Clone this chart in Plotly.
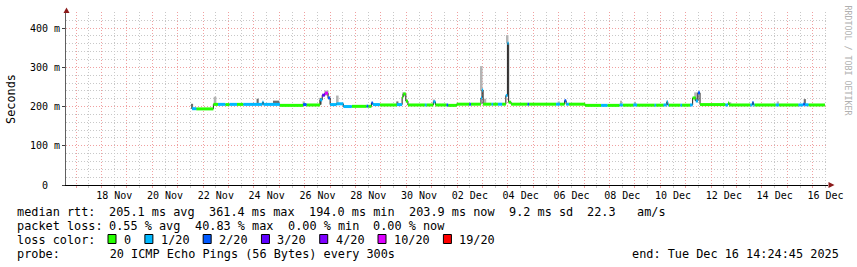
import plotly.graph_objects as go
import pandas as pd

# ---------------- data ----------------
range_start = "2025-11-16 14:24:45"
range_end = "2025-12-16 14:24:45"
y_max_ms = 441

# median rtt segments: start time, median (ms), lost pings out of 20
seg_start = [
    "2025-11-21 13:30", "2025-11-21 17:30", "2025-11-22 09:40", "2025-11-22 14:00",
    "2025-11-22 21:00", "2025-11-23 01:00", "2025-11-23 08:00", "2025-11-23 14:00",
    "2025-11-24 08:00", "2025-11-24 09:00", "2025-11-25 00:30", "2025-11-25 22:30",
    "2025-11-26 01:40", "2025-11-26 14:30", "2025-11-26 16:30", "2025-11-26 19:00",
    "2025-11-26 22:00", "2025-11-27 00:00", "2025-11-27 06:00", "2025-11-27 12:30",
    "2025-11-27 20:30", "2025-11-28 10:30", "2025-11-28 12:00", "2025-11-28 15:00",
    "2025-11-28 16:30", "2025-11-28 23:00", "2025-11-29 15:00", "2025-11-29 20:00",
    "2025-11-29 21:00", "2025-11-29 23:30", "2025-11-30 01:30", "2025-11-30 17:30",
    "2025-11-30 19:00", "2025-12-01 01:30", "2025-12-01 03:30", "2025-12-01 14:00",
    "2025-12-01 15:30", "2025-12-01 23:30", "2025-12-02 11:30", "2025-12-02 13:00",
    "2025-12-02 22:30", "2025-12-02 23:30", "2025-12-03 00:30", "2025-12-03 08:30",
    "2025-12-03 10:00", "2025-12-03 14:30", "2025-12-03 18:30", "2025-12-03 22:00",
    "2025-12-03 23:30", "2025-12-04 00:40", "2025-12-04 03:00", "2025-12-04 18:30",
    "2025-12-04 20:00", "2025-12-05 21:30", "2025-12-06 01:00", "2025-12-06 05:30",
    "2025-12-06 07:00", "2025-12-06 09:30", "2025-12-07 01:00", "2025-12-07 16:00",
    "2025-12-07 22:00", "2025-12-08 09:30", "2025-12-08 12:30", "2025-12-08 22:30",
    "2025-12-09 02:00", "2025-12-09 18:30", "2025-12-09 20:00", "2025-12-10 03:00",
    "2025-12-10 06:00", "2025-12-10 07:00", "2025-12-10 08:00", "2025-12-10 19:00",
    "2025-12-10 20:30", "2025-12-11 04:00", "2025-12-11 06:30", "2025-12-11 09:30",
    "2025-12-11 11:30", "2025-12-11 13:30", "2025-12-12 13:30", "2025-12-12 16:00",
    "2025-12-12 17:00", "2025-12-13 13:00", "2025-12-13 15:00", "2025-12-13 16:00",
    "2025-12-13 17:00", "2025-12-14 13:00", "2025-12-14 16:00", "2025-12-15 10:30",
    "2025-12-15 15:00", "2025-12-15 16:30", "2025-12-15 20:00",
]
seg_rtt_ms = [
    194.5, 194.0, 205.5, 205.5,
    205.0, 205.5, 205.5, 205.5,
    211.0, 205.5, 203.0, 205.0,
    204.0, 217.0, 229.0, 234.0,
    222.0, 205.0, 207.0, 200.0,
    200.5, 201.0, 200.5, 209.0,
    205.0, 204.0, 205.0, 224.0,
    232.0, 214.0, 204.0, 204.0,
    204.0, 212.0, 204.0, 204.0,
    203.0, 206.0, 206.0, 206.0,
    222.0, 242.0, 206.0, 206.0,
    206.0, 206.0, 206.0, 228.0,
    361.4, 211.0, 206.0, 206.0,
    206.0, 206.0, 206.0, 215.0,
    206.0, 206.0, 203.0, 203.0,
    203.0, 204.0, 203.5, 204.0,
    203.5, 203.5, 203.5, 204.0,
    212.0, 204.0, 203.5, 203.5,
    203.5, 204.0, 222.0, 214.0,
    235.0, 205.0, 204.0, 209.0,
    204.0, 204.0, 210.0, 204.0,
    204.0, 204.0, 204.0, 204.0,
    206.0, 204.5, 204.0,
]
seg_loss = [
    1, 0, 0, 1,
    0, 1, 0, 1,
    1, 1, 0, 2,
    0, 1, 3, 10,
    2, 1, 1, 1,
    0, 2, 0, 2,
    1, 0, 1, 0,
    0, 0, 0, 1,
    0, 1, 0, 2,
    0, 0, 2, 0,
    1, 1, 0, 1,
    0, 1, 0, 1,
    1, 0, 0, 2,
    0, 1, 0, 2,
    1, 0, 0, 1,
    0, 1, 0, 1,
    0, 1, 0, 1,
    1, 1, 0, 1,
    0, 1, 0, 1,
    2, 0, 1, 0,
    0, 1, 2, 1,
    0, 1, 0, 1,
    2, 1, 0,
]
data_end = "2025-12-16 11:30"

# smoke (spread of the 20 pings): start, end, low (ms), high (ms), dense?
smoke_start = [
    "2025-11-21 13:00", "2025-11-22 10:00", "2025-11-24 02:30", "2025-11-24 18:00",
    "2025-11-25 22:00", "2025-11-26 14:00", "2025-11-26 18:30", "2025-11-27 05:30",
    "2025-11-28 15:00", "2025-11-29 14:30", "2025-11-29 20:00", "2025-12-01 01:00",
    "2025-12-02 22:30", "2025-12-03 01:00", "2025-12-03 23:00", "2025-12-05 23:00",
    "2025-12-08 10:00", "2025-12-08 23:00", "2025-12-11 08:00", "2025-12-12 17:00",
    "2025-12-14 14:00", "2025-12-15 15:30",
]
smoke_end = [
    "2025-11-21 14:30", "2025-11-22 12:30", "2025-11-24 04:30", "2025-11-25 00:00",
    "2025-11-26 00:00", "2025-11-26 16:00", "2025-11-26 22:30", "2025-11-27 08:00",
    "2025-11-28 17:00", "2025-11-29 16:30", "2025-11-29 23:00", "2025-12-01 03:00",
    "2025-12-03 00:00", "2025-12-03 03:30", "2025-12-04 00:30", "2025-12-06 01:00",
    "2025-12-08 11:30", "2025-12-09 01:00", "2025-12-11 12:00", "2025-12-12 19:00",
    "2025-12-14 16:00", "2025-12-15 17:30",
]
smoke_lo_ms = [194, 205, 205, 206, 205, 205, 228, 206, 205, 205, 226, 208,
               240, 206, 361, 206, 204, 204, 215, 204, 205, 205]
smoke_hi_ms = [207, 225, 220, 215, 213, 222, 241, 228, 211, 213, 236, 218,
               303, 220, 382, 213, 215, 212, 236, 211, 213, 219]
smoke_dense = [1, 0, 1, 1, 0, 1, 0, 0, 0, 1, 0, 0,
               0, 0, 0, 0, 0, 0, 0, 0, 0, 1]

loss_levels = [0, 1, 2, 3, 4, 10, 19]
loss_labels = ["0", "1/20", "2/20", "3/20", "4/20", "10/20", "19/20"]
loss_colors = ["#26ff00", "#00b8ff", "#0059ff", "#5e00ff", "#7e00ff", "#dd00ff", "#ff0000"]

x_label_days = ["2025-11-18", "2025-11-20", "2025-11-22", "2025-11-24", "2025-11-26",
                "2025-11-28", "2025-11-30", "2025-12-02", "2025-12-04", "2025-12-06",
                "2025-12-08", "2025-12-10", "2025-12-12", "2025-12-14", "2025-12-16"]
x_label_text = ["18 Nov", "20 Nov", "22 Nov", "24 Nov", "26 Nov", "28 Nov", "30 Nov",
                "02 Dec", "04 Dec", "06 Dec", "08 Dec", "10 Dec", "12 Dec", "14 Dec", "16 Dec"]
y_tick_ms = [0, 100, 200, 300, 400]
y_tick_text = ["0\u00a0\u00a0", "100 m", "200 m", "300 m", "400 m"]

stats_rtt = ["median rtt:", "205.1 ms avg", "361.4 ms max", "194.0 ms min",
             "203.9 ms now", "9.2 ms sd", "22.3", "am/s"]
stats_loss = ["packet loss:", "0.55 % avg", "40.83 % max", "0.00 % min", "0.00 % now"]
probe_text = "probe:       20 ICMP Echo Pings (56 Bytes) every 300s"
end_text = "end: Tue Dec 16 14:24:45 2025"

# ---------------- layout helpers ----------------
W, H = 857, 267
PL, PR, PT, PB = 66, 828, 12, 185
MONO = "DejaVu Sans Mono"
CW = 7.13          # legend char advance in px
LEG_FONT = 11.85
AX_FONT = 10


def px(xp):
    return (xp - PL) / (PR - PL)


def py(yp):
    return (PB - yp) / (PB - PT)


fig = go.Figure()

# smoke
s0 = pd.to_datetime(smoke_start)
s1 = pd.to_datetime(smoke_end)
mid = s0 + (s1 - s0) / 2
wid = [(b - a).total_seconds() * 1000 for a, b in zip(s0, s1)]
for dense, col in [(0, "#b4b4b4"), (1, "#6e6e6e")]:
    idx = [i for i, d in enumerate(smoke_dense) if d == dense]
    fig.add_trace(go.Bar(
        x=[mid[i] for i in idx], width=[wid[i] for i in idx],
        base=[smoke_lo_ms[i] for i in idx],
        y=[smoke_hi_ms[i] - smoke_lo_ms[i] for i in idx],
        marker=dict(color=col, line=dict(width=0)), hoverinfo="skip", showlegend=False))

# median line (dark step line)
t_all = list(pd.to_datetime(seg_start)) + [pd.to_datetime(data_end)]
fig.add_trace(go.Scatter(
    x=t_all, y=seg_rtt_ms + [seg_rtt_ms[-1]], mode="lines",
    line=dict(shape="hv", color="#202020", width=1), hoverinfo="skip", showlegend=False))

# loss-coloured median band
for lvl, col in zip(loss_levels, loss_colors):
    xs, ys = [], []
    for i, l in enumerate(seg_loss):
        if l == lvl:
            xs += [t_all[i], t_all[i + 1], None]
            ys += [seg_rtt_ms[i], seg_rtt_ms[i], None]
    if xs:
        fig.add_trace(go.Scatter(x=xs, y=ys, mode="lines",
                                 line=dict(color=col, width=3),
                                 hoverinfo="skip", showlegend=False))

# carrier for the label axis
noon = [pd.Timestamp(d) + pd.Timedelta(hours=12) for d in x_label_days]
fig.add_trace(go.Scatter(x=noon, y=[None] * len(noon), xaxis="x2", mode="markers",
                         hoverinfo="skip", showlegend=False))

major_grid = "#f0a0a0"
minor_grid = "#c8c8c8"
dash = "1px,2px"

fig.update_layout(
    width=W, height=H,
    margin=dict(l=PL, r=W - PR, t=PT, b=H - PB, pad=0),
    paper_bgcolor="white", plot_bgcolor="white",
    barmode="overlay", showlegend=False,
    font=dict(family=MONO, size=AX_FONT, color="#000000"),
    xaxis=dict(
        type="date", range=[range_start, range_end],
        showgrid=True, gridcolor=major_grid, griddash=dash, gridwidth=1,
        tick0="2025-11-17 00:00", dtick=86400000,
        showticklabels=False, ticks="outside", ticklen=2, tickcolor=major_grid,
        minor=dict(dtick=43200000, showgrid=True, gridcolor=minor_grid,
                   griddash=dash, ticks="outside", ticklen=2, tickcolor=minor_grid),
        showline=True, linecolor="#000000", linewidth=1, zeroline=False,
    ),
    xaxis2=dict(
        type="date", range=[range_start, range_end], overlaying="x", anchor="y",
        side="bottom", tickvals=noon, ticktext=x_label_text,
        showgrid=False, showline=False, ticks="", zeroline=False,
        ticklabelstandoff=3,
        tickfont=dict(family=MONO, size=AX_FONT, color="#000000"),
    ),
    yaxis=dict(
        range=[0, y_max_ms], tickvals=y_tick_ms, ticktext=y_tick_text,
        showgrid=True, gridcolor=major_grid, griddash=dash, gridwidth=1,
        minor=dict(dtick=20, showgrid=True, gridcolor=minor_grid, griddash=dash),
        ticks="outside", ticklen=3, tickcolor="#404040",
        showline=True, linecolor="#606060", linewidth=1, zeroline=False,
        tickfont=dict(family=MONO, size=AX_FONT, color="#000000"),
    ),
)

annots = []


def txt(x, y, s, size=LEG_FONT, anchor="left", color="#000000", angle=0):
    annots.append(dict(xref="paper", yref="paper", x=px(x), y=py(y), text=s,
                       showarrow=False, xanchor=anchor, yanchor="middle",
                       textangle=angle, font=dict(family=MONO, size=size, color=color)))


X0 = 14.6
row_y = [211.5, 225.5, 239.5, 253.5]
cols1 = [0, 13, 27, 41, 55, 69, 80, 87]
for c, s in zip(cols1, stats_rtt):
    txt(X0 + c * CW, row_y[0], s)
cols2 = [0, 13, 25, 38, 50]
for c, s in zip(cols2, stats_loss):
    txt(X0 + c * CW, row_y[1], s)
txt(X0, row_y[2], "loss color:")
txt(X0, row_y[3], probe_text.replace(" ", "\u00a0"))
txt(841, row_y[3], end_text.replace(" ", "\u00a0"), anchor="right")

shapes = []
bx = 108.0
for lab, col in zip(loss_labels, loss_colors):
    shapes.append(dict(type="rect", xref="paper", yref="paper",
                       x0=px(bx), x1=px(bx + 8), y0=py(243.5), y1=py(234.5),
                       fillcolor=col, line=dict(color="#000000", width=1)))
    txt(bx + 14, row_y[2], lab)
    bx += 15.5 + (len(lab) + 2) * CW

# axis title and watermark
txt(11, 99, "Seconds", anchor="center", angle=-90)
txt(847.5, 60, "RRDTOOL / TOBI OETIKER", size=8.3, anchor="center",
    color="#b0b0b0", angle=90)

# arrows
arrow = "#8b1a1a"
shapes.append(dict(type="path", xref="paper", yref="paper",
                   path=f"M {px(63.5)} {py(13)} L {px(69.5)} {py(13)} L {px(66.5)} {py(7.5)} Z",
                   fillcolor=arrow, line=dict(width=0)))
shapes.append(dict(type="path", xref="paper", yref="paper",
                   path=f"M {px(828.5)} {py(182)} L {px(828.5)} {py(188)} L {px(834.5)} {py(185)} Z",
                   fillcolor=arrow, line=dict(width=0)))

fig.update_layout(annotations=annots, shapes=shapes)
fig.write_html("out.html")
